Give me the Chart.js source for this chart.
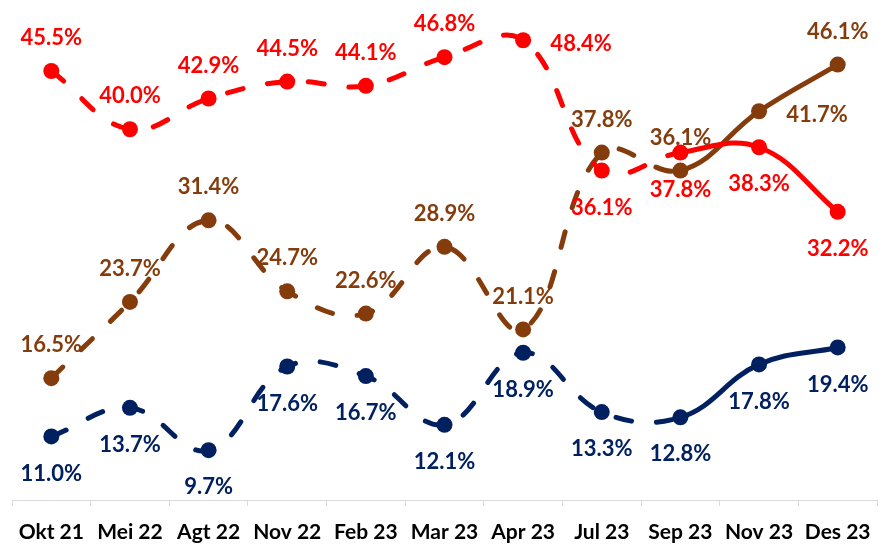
<!DOCTYPE html>
<html>
<head>
<meta charset="utf-8">
<script src="https://cdn.jsdelivr.net/npm/chart.js@4"></script>
<style>
    html, body { margin: 0; padding: 0; background: #fff; overflow: hidden; }
    #wrap { width: 889px; height: 544px; position: relative; }
</style>
</head>
<body>
<div id="wrap"><canvas id="trendChart"></canvas></div>
<script>
const periods = ["Okt 21", "Mei 22", "Agt 22", "Nov 22", "Feb 23", "Mar 23", "Apr 23", "Jul 23", "Sep 23", "Nov 23", "Des 23"];
const redValues = [45.5, 40.0, 42.9, 44.5, 44.1, 46.8, 48.4, 36.1, 37.8, 38.3, 32.2];
const brownValues = [16.5, 23.7, 31.4, 24.7, 22.6, 28.9, 21.1, 37.8, 36.1, 41.7, 46.1];
const navyValues = [11.0, 13.7, 9.7, 17.6, 16.7, 12.1, 18.9, 13.3, 12.8, 17.8, 19.4];

// where each value label sits relative to its point
const redLabelPos = ["above", "above", "above", "above", "above", "above", "right", "below", "below", "below", "below"];
const brownLabelPos = ["above", "above", "above", "above", "above", "above", "above", "above", "above", "right", "above"];
const navyLabelPos = ["below", "below", "below", "below", "below", "below", "below", "below", "below", "below", "below"];

const RED = "#FF0000";
const BROWN = "#843C0C";
const NAVY = "#002060";
const SOLID_FROM = 8; // segments from Sep 23 onwards are solid

function makeSeries(name, data, color, labelPos) {
    return {
        label: name,
        data: data,
        labelPos: labelPos,
        borderColor: color,
        backgroundColor: color,
        borderWidth: 5,
        borderCapStyle: "round",
        pointRadius: 8,
        pointHoverRadius: 8,
        pointBorderWidth: 0,
        pointBackgroundColor: color,
        tension: 0.4,
        clip: false,
        segment: {
            borderDash: ctx => ctx.p0DataIndex < SOLID_FROM ? [16, 25] : []
        }
    };
}

// simple value labels (no datalabels plugin available offline)
const valueLabels = {
    id: "valueLabels",
    afterDatasetsDraw(chart) {
        const ctx = chart.ctx;
        ctx.save();
        ctx.font = "bold 22px Lato, 'Open Sans', sans-serif";
        ctx.textAlign = "center";
        ctx.textBaseline = "middle";
        chart.data.datasets.forEach((ds, di) => {
            const meta = chart.getDatasetMeta(di);
            ctx.fillStyle = ds.borderColor;
            meta.data.forEach((pt, i) => {
                const pos = ds.labelPos[i];
                let x = pt.x, y = pt.y;
                if (pos === "above") y -= 33;
                else if (pos === "below") y += 37;
                else if (pos === "right") { x += 58; y += 4; }
                ctx.fillText(ds.data[i].toFixed(1) + "%", x, y);
            });
        });
        ctx.restore();
    }
};

const ctx = document.getElementById("trendChart").getContext("2d");
const chart = new Chart(ctx, {
    type: "line",
    data: {
        labels: periods,
        datasets: [
            makeSeries("Merah", redValues, RED, redLabelPos),
            makeSeries("Coklat", brownValues, BROWN, brownLabelPos),
            makeSeries("Biru", navyValues, NAVY, navyLabelPos)
        ]
    },
    options: {
        responsive: true,
        maintainAspectRatio: false,
        animation: false,
        layout: { autoPadding: false, padding: { left: 12, right: 12, top: 0, bottom: 0 } },
        scales: {
            x: {
                offset: true,
                grid: { offset: true, drawOnChartArea: false, tickLength: 6, color: "#d9d9d9" },
                border: { color: "#d9d9d9", width: 1 },
                ticks: {
                    color: "#000",
                    padding: 14,
                    maxRotation: 0,
                    autoSkip: false,
                    font: { family: "Lato, 'Open Sans', sans-serif", size: 21, weight: "bold", lineHeight: 1.2 }
                },
                afterFit: scale => { scale.height = 44; }
            },
            y: { display: false, min: 5, max: 52.2 }
        },
        plugins: {
            legend: { display: false },
            tooltip: { enabled: false }
        }
    },
    plugins: [valueLabels]
});
</script>
</body>
</html>
